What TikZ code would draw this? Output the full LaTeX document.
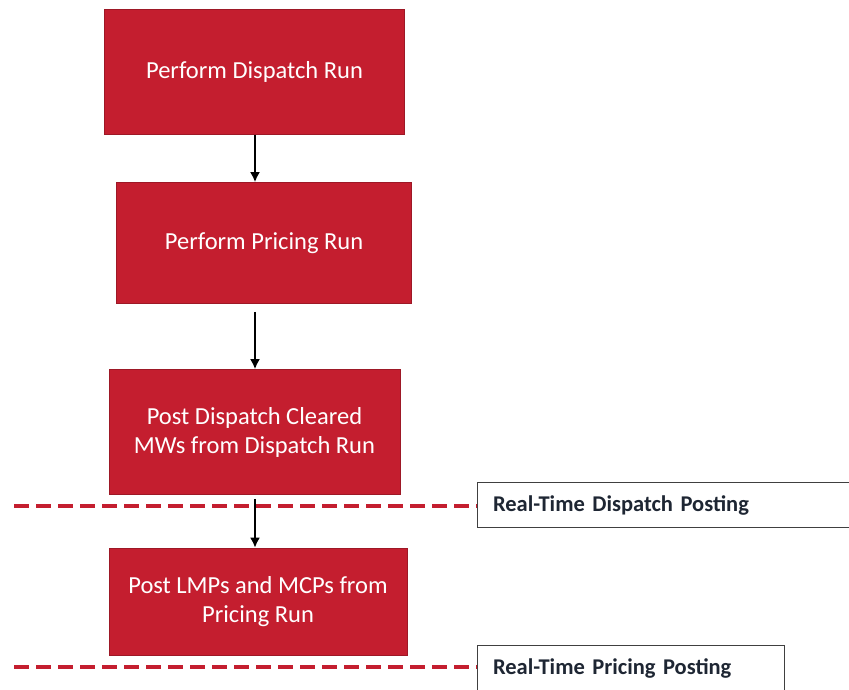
\documentclass[tikz,border=0pt]{standalone}
\usepackage{fontspec}
\setmainfont{Carlito}
\usetikzlibrary{arrows.meta,calc,positioning}

\definecolor{runred}{HTML}{C41E2F}
\definecolor{posttext}{HTML}{1E2633}
\newcommand\postfont{\fontsize{22.5}{25}\bfseries\selectfont\spaceskip=4.5pt\relax}

\tikzset{
  runbox/.style={rectangle, fill=runred, draw=runred!80!black, line width=0.6pt,
                 text=white, align=center, font=\fontsize{24.5}{29}\selectfont},
  postbox/.style={rectangle, draw=black!75, line width=1pt, fill=white, text=posttext,
                  anchor=north west, align=left, inner xsep=15pt, font=\postfont},
  flow/.style={-{Latex[length=10pt,width=10pt]}, line width=2.6pt, black},
  cutline/.style={line width=4pt, runred, dash pattern=on 15pt off 7pt}
}

\begin{document}
\begin{tikzpicture}[x=1pt,y=-1pt]
\useasboundingbox (0,0) rectangle (849,689);

% steps
\node[runbox, minimum width=300pt, minimum height=125pt] (dispatch) at (254.5,72)
  {Perform Dispatch Run};
\node[runbox, minimum width=295pt, minimum height=121pt] (pricing) at (264,243)
  {Perform Pricing Run};
\node[runbox, minimum width=291pt, minimum height=125pt] (postmw) at (254.5,432)
  {Post Dispatch Cleared\\MWs from Dispatch Run};
\node[runbox, minimum width=298pt, minimum height=107pt] (postlmp) at (258,601.5)
  {Post LMPs and MCPs from\\Pricing Run};

% posting markers
\node[postbox, minimum width=372pt, minimum height=45pt, text width=341pt] (dispatchpost) at (477,482)
  {Real-Time Dispatch Posting};
\node[postbox, minimum width=307pt, minimum height=45pt, text width=276pt] (pricingpost) at (477,645)
  {Real-Time Pricing Posting};
\coordinate (dcut) at (14,506);
\coordinate (pcut) at (14,667);
\draw[cutline] (dcut) -- (dcut -| dispatchpost.west);
\draw[cutline] (pcut) -- (pcut -| pricingpost.west);

% arrows
\draw[flow] (dispatch.south -| 255,0) -- (pricing.north -| 255,0);
\draw[flow, shorten <=8pt] (pricing.south -| 255,0) -- (postmw.north -| 255,0);
\draw[flow, shorten <=4pt] (postmw.south -| 255,0) -- (postlmp.north -| 255,0);
\end{tikzpicture}
\end{document}
